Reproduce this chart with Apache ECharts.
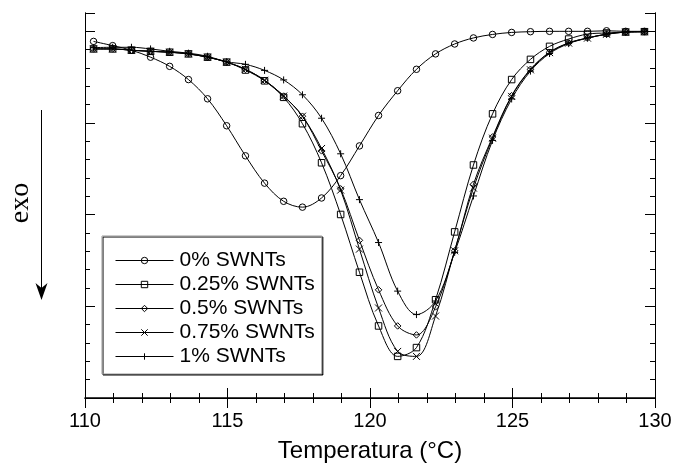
<!DOCTYPE html>
<html>
<head>
<meta charset="utf-8">
<script src="https://cdn.jsdelivr.net/npm/echarts@6/dist/echarts.min.js"></script>
<style>
html,body{margin:0;padding:0;background:#fff;}
#chart{width:686px;height:468px;}
</style>
</head>
<body>
<div id="chart"></div>
<script>
// Temperature (°C) of marker points
const temps = [110.30,110.97,111.63,112.30,112.97,113.63,114.30,114.97,115.63,116.30,
               116.97,117.63,118.30,118.97,119.63,120.30,120.97,121.63,122.30,122.97,
               123.63,124.30,124.97,125.63,126.30,126.97,127.63,128.30,128.97,129.63];
const seriesNames = ['0% SWNTs','0.25% SWNTs','0.5% SWNTs','0.75% SWNTs','1% SWNTs'];
// Heat flow (arbitrary units, exo down)
const s0   = [19.45,19.22,18.97,18.59,18.09,17.37,16.32,14.85,13.21,11.72,10.73,10.41,10.91,12.13,13.75,
              15.41,16.76,17.93,18.77,19.31,19.64,19.83,19.94,19.98,20.00,20.00,20.00,20.03,20.00,20.00];
const s025 = [19.04,19.04,18.97,18.91,18.86,18.77,18.59,18.32,17.89,17.30,16.40,14.96,12.83,10.01,6.86,
              3.93,2.27,2.75,5.36,9.06,12.71,15.50,17.37,18.47,19.18,19.58,19.85,19.91,19.96,19.98];
const s05  = [19.04,19.04,18.97,18.91,18.86,18.77,18.59,18.32,17.93,17.33,16.47,15.37,13.48,11.41,8.60,
              5.90,3.93,3.44,4.97,8.03,11.66,14.24,16.49,17.93,18.86,19.37,19.64,19.85,19.96,19.98];
const s075 = [19.04,19.04,18.97,18.91,18.86,18.77,18.59,18.32,17.93,17.33,16.47,15.37,13.61,11.34,8.12,
              4.91,2.54,2.27,4.47,8.03,11.45,14.17,16.45,17.90,18.84,19.36,19.63,19.84,19.96,19.98];
const s1   = [19.11,19.13,19.13,19.04,18.91,18.81,18.64,18.34,18.20,17.87,17.35,16.54,15.26,13.32,10.82,
              8.48,5.83,4.55,5.29,7.94,11.02,14.05,16.31,17.83,18.79,19.33,19.63,19.84,19.96,19.98];
const xTicks = [110,115,120,125,130];

const symbols = ['circle','rect','diamond','path://M0,0L10,10M10,0L0,10','path://M5,0L5,10M0,5L10,5'];
const allData = [s0,s025,s05,s075,s1];

const chart = echarts.init(document.getElementById('chart'), null, {renderer:'canvas'});
const FONT = '"Liberation Sans", Arial, Helvetica, sans-serif';

function yAx(pos, interval, len){
  return {type:'value', position:pos, min:0, max:21, interval:interval,
    axisLine:{show:true, lineStyle:{color:'#000', width:1}},
    axisTick:{show:true, inside:true, length:len, lineStyle:{color:'#000', width:1}},
    axisLabel:{show:false}, splitLine:{show:false}};
}
function xAx(pos, labels){
  return {type:'value', position:pos, min:xTicks[0], max:xTicks[xTicks.length-1], interval:5,
    axisLine:{show:true, lineStyle:{color:'#000', width:labels ? 1.5 : 1}},
    axisTick:{show:true, inside:true, length:10, lineStyle:{color:'#000', width:1}},
    minorTick:{show:true, splitNumber:5, length:5, lineStyle:{color:'#000', width:1}},
    axisLabel:{show:labels, color:'#000', fontSize:20, fontFamily:FONT, margin:13},
    name: labels ? 'Temperatura (°C)' : '', nameLocation:'middle', nameGap:41,
    nameTextStyle:{color:'#000', fontSize:24, fontFamily:FONT},
    splitLine:{show:false}, minorSplitLine:{show:false}};
}

const option = {
  animation:false,
  backgroundColor:'#fff',
  grid:{left:85, right:31, top:13, bottom:66, containLabel:false},
  xAxis:[xAx('bottom', true), xAx('top', false)],
  yAxis:[yAx('left',1,5), yAx('left',5,10), yAx('right',1,5), yAx('right',5,10)],
  legend:{
    orient:'vertical', left:102, top:236,
    data:seriesNames,
    itemWidth:58, itemHeight:8, itemGap:3,
    padding:[14,7,7,13],
    backgroundColor:'#fff', borderColor:'#999', borderWidth:1,
    shadowColor:'#000', shadowOffsetX:1, shadowOffsetY:1, shadowBlur:0,
    textStyle:{color:'#000', fontSize:21, fontFamily:FONT, lineHeight:21, padding:[0,0,0,1]},
    itemStyle:{borderWidth:1, borderColor:'#000', color:'rgba(0,0,0,0)'},
    lineStyle:{width:1, color:'#000'}
  },
  series: seriesNames.map((n,i)=>({
    name:n, type:'line', xAxisIndex:0, yAxisIndex:0,
    data: temps.map((t,k)=>[t, allData[i][k]]),
    smooth:0.35,
    symbol:symbols[i], symbolSize: i>=3 ? 7 : 6.5,
    showAllSymbol:true,
    lineStyle:{color:'#000', width:1},
    itemStyle:{color:'rgba(0,0,0,0)', borderColor:'#000', borderWidth:1},
    z: 2+i
  })),
  graphic:[
    {type:'text', x:21, y:203, rotation:Math.PI/2, z:10,
     style:{text:'exo', fill:'#000', font:'28px "Liberation Serif", "Times New Roman", serif',
            align:'center', verticalAlign:'middle'}},
    {type:'line', shape:{x1:41.5, y1:110, x2:41.5, y2:292}, style:{stroke:'#000', lineWidth:1}},
    {type:'polygon', shape:{points:[[41.5,300],[35.5,283],[41.5,288],[47.5,283]]}, style:{fill:'#000'}}
  ]
};
chart.setOption(option);
</script>
</body>
</html>
